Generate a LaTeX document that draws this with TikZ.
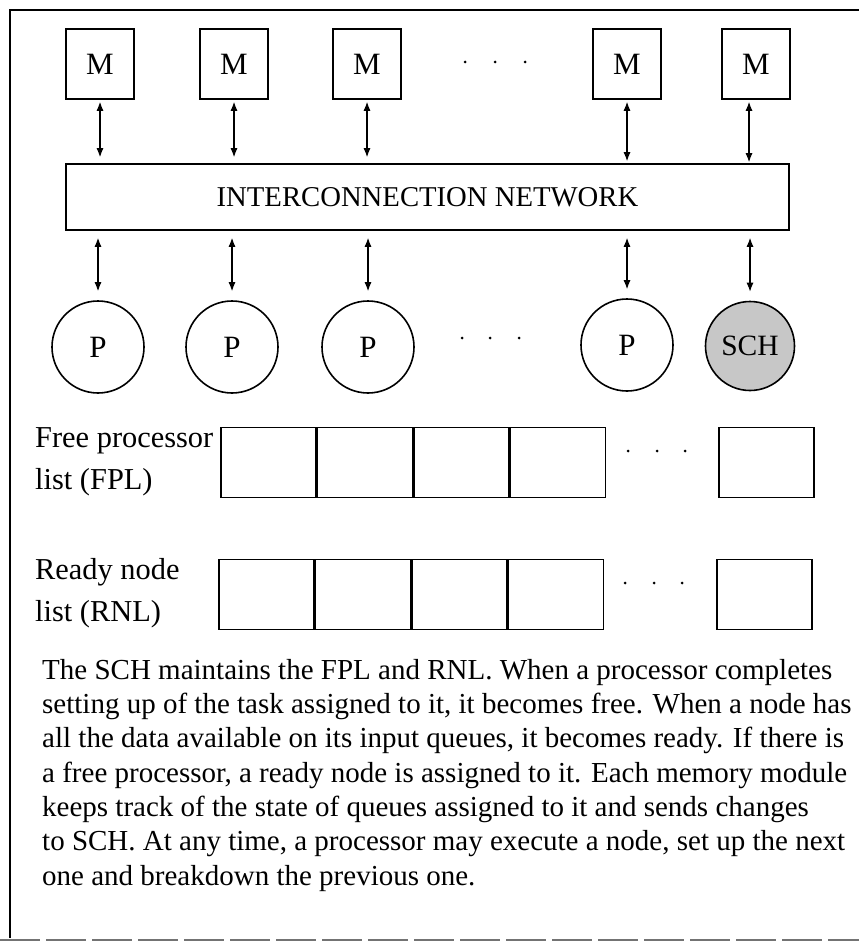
\documentclass[tikz,border=0pt]{standalone}
\usepackage{fontspec}
\setmainfont{Liberation Serif}
\usetikzlibrary{arrows.meta,calc}
\begin{document}
\begin{tikzpicture}[x=1pt,y=-1pt,
  mbox/.style={draw,line width=1.6pt,minimum width=68pt,minimum height=70pt,inner sep=0pt,font=\fontsize{31}{33}\selectfont},
  netbox/.style={draw,line width=1.6pt,minimum width=723pt,minimum height=66pt,inner sep=0pt,font=\fontsize{28.7}{30}\selectfont},
  pcirc/.style={draw,circle,line width=1.6pt,minimum size=92pt,inner sep=0pt,font=\fontsize{31}{33}\selectfont},
  schcirc/.style={pcirc,minimum size=89pt,fill=black!22,font=\fontsize{29.5}{31}\selectfont},
  cell/.style={draw,line width=1.6pt,minimum width=95pt,minimum height=70pt,inner sep=0pt,anchor=west},
  lbl/.style={align=left,anchor=west,inner sep=0pt,font=\fontsize{30.4}{42}\selectfont},
  link/.style={line width=1.1pt,{Latex[length=9pt,width=7pt]}-{Latex[length=9pt,width=7pt]}},
  dotm/.style={fill=black}
]
\useasboundingbox (0,0) rectangle (859,942);
% frame
\draw[line width=1.4pt] (859,10) -- (10,10) -- (10,938);
\draw[line width=1.2pt,black!55,dash pattern=on 40pt off 6pt] (0,940) -- (859,940);

% memory modules
\node[mbox] (m1) at (100,64) {M};
\node[mbox] (m2) at (234,64) {M};
\node[mbox] (m3) at (367,64) {M};
\node[mbox] (m4) at (627,64) {M};
\node[mbox] (m5) at (756,64) {M};
\foreach \x in {465,495,525} \fill[dotm] (\x,62) circle (1.5);

% network
\node[netbox] (net) at (427.5,197) {INTERCONNECTION NETWORK};

\draw[link,shorten <=2pt,shorten >=6pt] (m1.south) -- (m1.south |- net.north);
\draw[link,shorten <=2pt,shorten >=6pt] (m2.south) -- (m2.south |- net.north);
\draw[link,shorten <=2pt,shorten >=6pt] (m3.south) -- (m3.south |- net.north);
\draw[link,shorten <=2pt,shorten >=2pt] (m4.south) -- (m4.south |- net.north);
\draw[link,shorten <=2pt,shorten >=1pt] ([xshift=-7pt]m5.south) -- ([xshift=-7pt]m5.south |- net.north);

% processors
\node[pcirc] (p1) at (98,347) {P};
\node[pcirc] (p2) at (232,347) {P};
\node[pcirc] (p3) at (368,347) {P};
\node[pcirc] (p4) at (627,345) {P};
\node[schcirc] (sch) at (750,346) {SCH};
\foreach \x in {462,490,519} \fill[dotm] (\x,338) circle (1.5);

\draw[link,shorten <=7pt,shorten >=9pt] (p1.north |- net.south) -- (p1.north);
\draw[link,shorten <=7pt,shorten >=9pt] (p2.north |- net.south) -- (p2.north);
\draw[link,shorten <=7pt,shorten >=9pt] (p3.north |- net.south) -- (p3.north);
\draw[link,shorten <=7pt,shorten >=9pt] (p4.north |- net.south) -- (p4.north);
\draw[link,shorten <=7pt,shorten >=9pt] (sch.north |- net.south) -- (sch.north);

% free processor list
\node[lbl] (fpl) at (35,462) {Free processor\\list (FPL)};
\node[cell] (f1) at (220,462.5) {};
\node[cell] (f2) at (f1.east) {};
\node[cell] (f3) at (f2.east) {};
\node[cell] (f4) at (f3.east) {};
\node[cell] (f5) at (718,462.5) {};
\foreach \x in {628,657,685} \fill[dotm] (\x,451) circle (1.5);

% ready node list
\node[lbl] (rnl) at (35,593) {Ready node\\list (RNL)};
\node[cell] (r1) at (218,594.5) {};
\node[cell] (r2) at (r1.east) {};
\node[cell] (r3) at (r2.east) {};
\node[cell] (r4) at (r3.east) {};
\node[cell] (r5) at (716,594.5) {};
\foreach \x in {625,654,682} \fill[dotm] (\x,583) circle (1.5);

% description
\node[align=left,anchor=north west,inner sep=0pt,font=\fontsize{29}{34.3}\selectfont] (txt) at (42,659) {%
The SCH maintains the FPL and RNL. When a processor completes\\
setting up of the task assigned to it, it becomes free. When a node has\\
all the data available on its input queues, it becomes ready. If there is\\
a free processor, a ready node is assigned to it. Each memory module\\
keeps track of the state of queues assigned to it and sends changes\\
to SCH. At any time, a processor may execute a node, set up the next\\
one and breakdown the previous one.};
\end{tikzpicture}
\end{document}
